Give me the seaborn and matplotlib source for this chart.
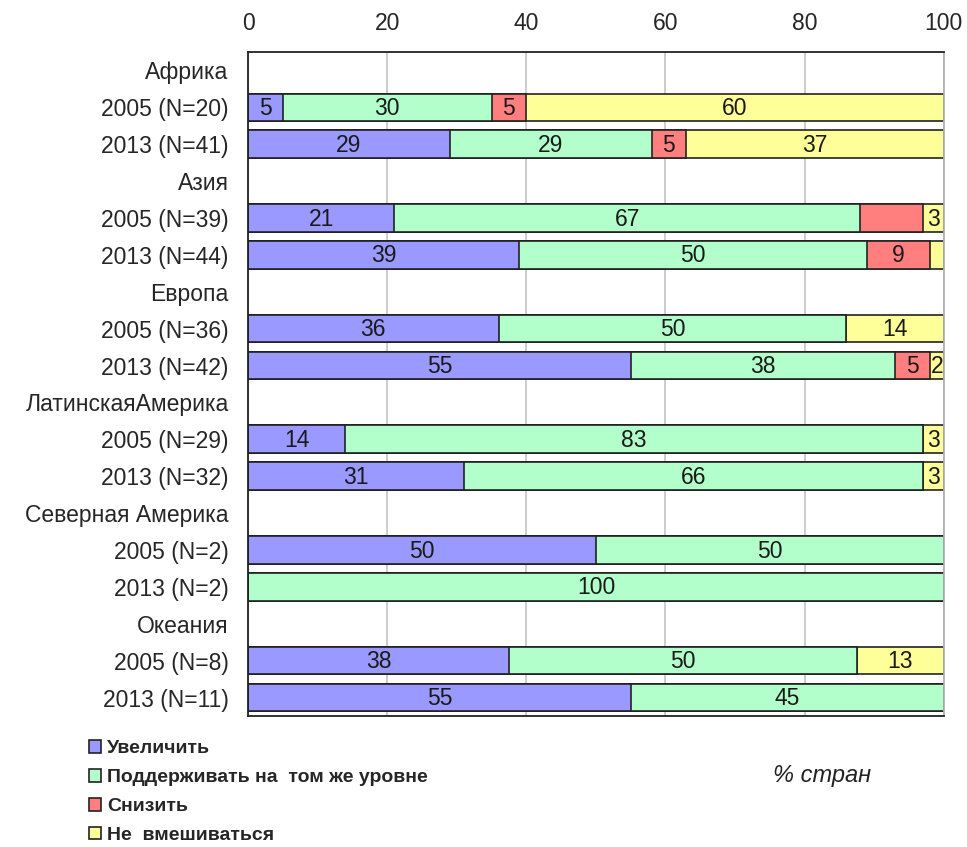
import numpy as np
import pandas as pd
import matplotlib
matplotlib.use("Agg")
import matplotlib.pyplot as plt
import seaborn as sns
from matplotlib.patches import Patch

sns.set_style("whitegrid")
plt.rcParams['font.family'] = ['Liberation Sans', 'DejaVu Sans']

# data
regions = ["Африка", "Азия", "Европа", "ЛатинскаяАмерика", "Северная Америка", "Океания"]
rows_2005 = ["2005 (N=20)", "2005 (N=39)", "2005 (N=36)", "2005 (N=29)", "2005 (N=2)", "2005 (N=8)"]
rows_2013 = ["2013 (N=41)", "2013 (N=44)", "2013 (N=42)", "2013 (N=32)", "2013 (N=2)", "2013 (N=11)"]

series = ["Увеличить", "Поддерживать на  том же уровне", "Снизить", "Не  вмешиваться"]
colors = ["#9999ff", "#b3ffcc", "#ff7f7f", "#ffff99"]

# order: Африка 2005, Африка 2013, Азия 2005, ...
increase = [5, 29, 21, 39, 36, 55, 14, 31, 50, 0, 37.5, 55]
maintain = [30, 29, 67, 50, 50, 38, 83, 66, 50, 100, 50, 45]
decrease = [5, 5, 9, 9, 0, 5, 0, 0, 0, 0, 0, 0]
no_interf = [60, 37, 3, 2, 14, 2, 3, 3, 0, 0, 12.5, 0]

# labels not printed on the chart (row index, series index)
hidden = [(2, 2), (3, 3)]

row_names = []
for r2005, r2013 in zip(rows_2005, rows_2013):
    row_names += [r2005, r2013]
order = []
for reg, r2005, r2013 in zip(regions, rows_2005, rows_2013):
    order += [reg, r2005, r2013]

vals = np.array([increase, maintain, decrease, no_interf], dtype=float)
cum = vals.cumsum(axis=0)

fig = plt.figure(figsize=(9.67, 8.47), dpi=100)
ax = fig.add_axes([0.2565, 0.1547, 0.7195, 0.7839])

# stacked bars: draw cumulative totals, widest first
for i in range(3, -1, -1):
    df = pd.DataFrame({"row": row_names, "val": cum[i]})
    sns.barplot(data=df, x="val", y="row", order=order, color=colors[i],
                saturation=1, width=0.75, edgecolor="#222222", linewidth=1.2, ax=ax)

# value labels
for j, name in enumerate(row_names):
    ypos = order.index(name)
    for i in range(4):
        v = vals[i, j]
        if v <= 0 or (j, i) in hidden:
            continue
        x = cum[i, j] - v / 2
        ax.text(x, ypos + 0.03, str(int(v + 0.5)), ha="center", va="center",
                fontsize=16.5, color="#1a1a1a")

ax.set_xlim(0, 100)
ax.set_ylim(len(order) - 0.5, -0.5)
ax.set_xticks([0, 20, 40, 60, 80, 100])
ax.xaxis.tick_top()
ax.tick_params(axis="x", length=0, pad=12, labelsize=16.5)
ax.tick_params(axis="y", length=0, pad=14, labelsize=16.5)
ax.set_xlabel("")
ax.set_ylabel("")
ax.grid(axis="y", visible=False)
ax.grid(axis="x", color="#c8c8c8", linewidth=1.3)
ax.set_axisbelow(True)
for side in ["left", "top", "bottom"]:
    ax.spines[side].set_color("#222222")
    ax.spines[side].set_linewidth(1.3)
ax.spines["right"].set_color("#b0b0b0")
ax.spines["right"].set_linewidth(1.3)

handles = [Patch(facecolor=c, edgecolor="#222222", linewidth=1.2) for c in colors]
fig.legend(handles, series, loc="upper left", bbox_to_anchor=(0.092, 0.126),
           frameon=False, prop={"size": 14, "weight": "bold"},
           handlelength=0.62, handleheight=0.62,
           handletextpad=0.3, labelspacing=0.6, borderpad=0, borderaxespad=0)

fig.text(0.799, 0.077, "% стран", fontsize=17, style="italic", color="#222222")

plt.savefig("out.png", dpi=100)
